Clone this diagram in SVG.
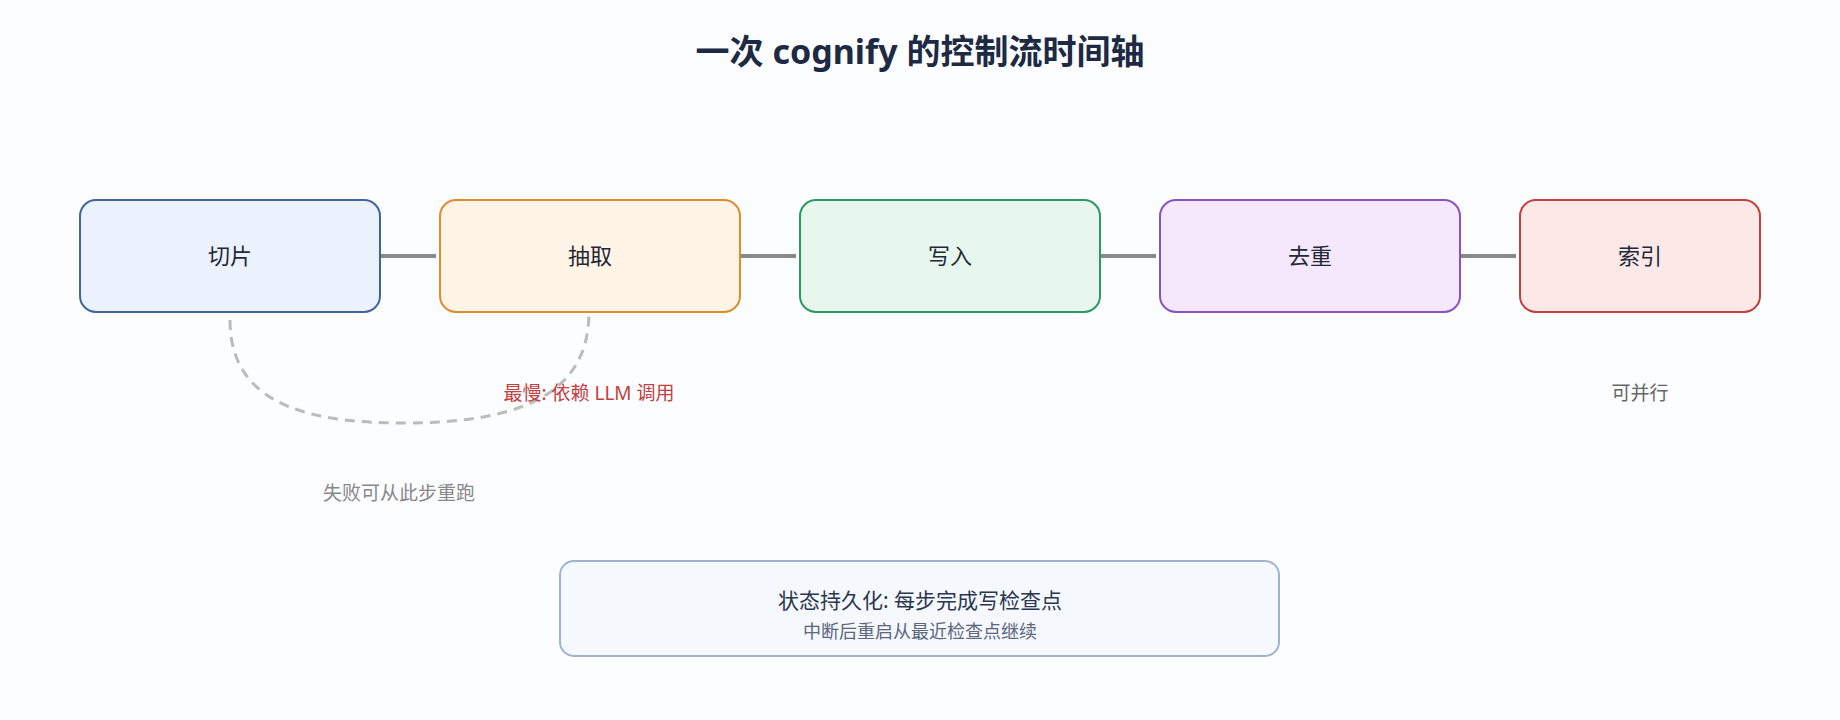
<svg xmlns="http://www.w3.org/2000/svg" width="1840" height="720" viewBox="0 0 1840 720">
<style>
text{font-family:"Noto Sans","Noto Sans CJK SC",sans-serif;text-anchor:middle}
.n{font-size:22px;fill:#1f2937}
.c{stroke:#888;stroke-width:4;fill:none}
</style>
<rect width="1840" height="720" fill="#fcfdff"/>
<text x="920" y="64" style="font-size:34px;font-weight:bold;fill:#1e2a44">一次 cognify 的控制流时间轴</text>
<g id="connectors">
<line class="c" x1="380" y1="256" x2="436" y2="256"/>
<line class="c" x1="740" y1="256" x2="796" y2="256"/>
<line class="c" x1="1100" y1="256" x2="1156" y2="256"/>
<line class="c" x1="1460" y1="256" x2="1516" y2="256"/>
<path d="M230,320 C230,400 300,423 402,423 C510,423 589,400 589,312" fill="none" stroke="#bbb" stroke-width="3" stroke-dasharray="10,7"/>
</g>
<g id="n1"><rect x="80" y="200" width="300" height="112" rx="16" fill="#ebf2fe" stroke="#3f64a0" stroke-width="2"/><text class="n" x="230" y="264">切片</text></g>
<g id="n2"><rect x="440" y="200" width="300" height="112" rx="16" fill="#fff4e6" stroke="#e08c2c" stroke-width="2"/><text class="n" x="590" y="264">抽取</text></g>
<g id="n3"><rect x="800" y="200" width="300" height="112" rx="16" fill="#e7f7ee" stroke="#2a9a63" stroke-width="2"/><text class="n" x="950" y="264">写入</text></g>
<g id="n4"><rect x="1160" y="200" width="300" height="112" rx="16" fill="#f5e8fd" stroke="#8752c2" stroke-width="2"/><text class="n" x="1310" y="264">去重</text></g>
<g id="n5"><rect x="1520" y="200" width="240" height="112" rx="16" fill="#fde8e8" stroke="#c2403f" stroke-width="2"/><text class="n" x="1640" y="264">索引</text></g>
<g id="labels">
<text x="589" y="400" style="font-size:19px;fill:#c2403f">最慢: 依赖 LLM 调用</text>
<text x="1640" y="400" style="font-size:19px;fill:#666">可并行</text>
<text x="399" y="500" style="font-size:19px;fill:#888">失败可从此步重跑</text>
</g>
<g id="state"><rect x="560" y="561" width="719" height="95" rx="14" fill="#f5f8fd" stroke="#9fb2d0" stroke-width="2"/>
<text x="920" y="608" style="font-size:21px;fill:#2b3650">状态持久化: 每步完成写检查点</text>
<text x="920" y="638" style="font-size:18px;fill:#5b6680">中断后重启从最近检查点继续</text></g>
</svg>
